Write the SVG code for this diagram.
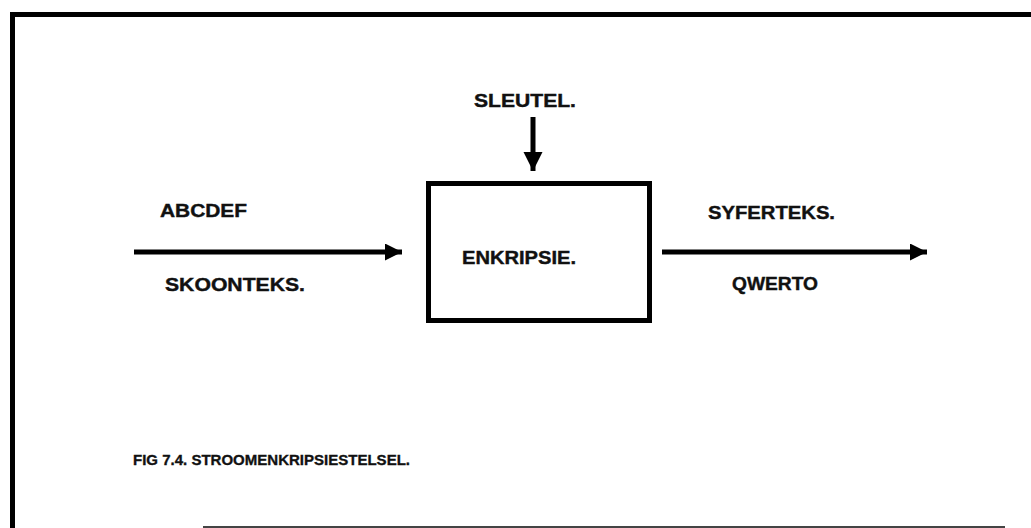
<svg xmlns="http://www.w3.org/2000/svg" width="1031" height="528" viewBox="0 0 1031 528">
  <style>
    .lbl { font-family: "Liberation Sans", Arial, Helvetica, sans-serif; font-weight: bold; font-size: 18px; fill: #111; stroke: #111; stroke-width: 0.4; }
    .cap { font-family: "Liberation Sans", Arial, Helvetica, sans-serif; font-weight: bold; font-size: 15.5px; fill: #111; stroke: #111; stroke-width: 0.35; }
    .frame { fill: none; stroke: #000; stroke-width: 5; }
    .box { fill: #fff; stroke: #000; stroke-width: 5; }
    .wire { stroke: #000; stroke-width: 5; fill: none; }
  </style>
  <defs>
    <marker id="head" viewBox="0 0 10 10" refX="10" refY="5" markerUnits="userSpaceOnUse" markerWidth="18" markerHeight="17" orient="auto">
      <path d="M0,0 L10,5 L0,10 Z" fill="#000"/>
    </marker>
    <marker id="headDown" viewBox="0 0 10 10" refX="10" refY="5" markerUnits="userSpaceOnUse" markerWidth="19" markerHeight="20" orient="auto">
      <path d="M0,0 L10,5 L0,10 Z" fill="#000"/>
    </marker>
  </defs>
  <rect width="1031" height="528" fill="#fff"/>

  <!-- page frame -->
  <g id="frame">
    <path class="frame" d="M12.5,528 L12.5,14.5 L1031,14.5"/>
    <line x1="203" y1="527" x2="1005" y2="527" stroke="#444" stroke-width="2"/>
  </g>

  <!-- connectors -->
  <g id="connectors">
    <line class="wire" x1="134" y1="252" x2="402" y2="252" marker-end="url(#head)"/>
    <line class="wire" x1="533" y1="117" x2="533" y2="171" stroke-width="6" marker-end="url(#headDown)"/>
    <line class="wire" x1="662" y1="252" x2="927" y2="252" marker-end="url(#head)"/>
  </g>

  <g id="plaintext">
    <text class="lbl" x="160" y="217" textLength="87" lengthAdjust="spacingAndGlyphs">ABCDEF</text>
    <text class="lbl" x="165" y="291" textLength="140" lengthAdjust="spacingAndGlyphs">SKOONTEKS.</text>
  </g>

  <g id="key">
    <text class="lbl" x="474" y="107" textLength="102" lengthAdjust="spacingAndGlyphs">SLEUTEL.</text>
  </g>

  <g id="encryption">
    <rect class="box" x="428.5" y="183.5" width="221" height="137"/>
    <text class="lbl" x="462" y="264" textLength="114" lengthAdjust="spacingAndGlyphs">ENKRIPSIE.</text>
  </g>

  <g id="ciphertext">
    <text class="lbl" x="708" y="219" textLength="127" lengthAdjust="spacingAndGlyphs">SYFERTEKS.</text>
    <text class="lbl" x="732" y="290" textLength="86" lengthAdjust="spacingAndGlyphs">QWERTO</text>
  </g>

  <g id="caption">
    <text class="cap" x="133" y="465" textLength="277" lengthAdjust="spacingAndGlyphs">FIG 7.4.  STROOMENKRIPSIESTELSEL.</text>
  </g>
</svg>
